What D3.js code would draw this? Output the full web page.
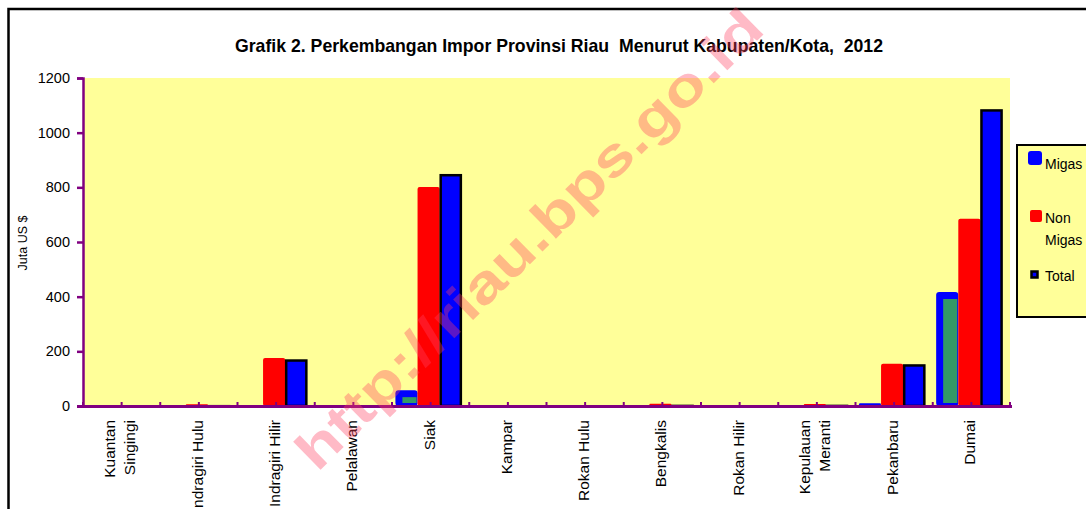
<!DOCTYPE html>
<html>
<head>
<meta charset="utf-8">
<script src="https://cdn.jsdelivr.net/npm/d3@7"></script>
<style>
body { margin: 0; background: #fff; }
text { font-family: "Liberation Sans", Arial, sans-serif; }
</style>
</head>
<body>
<svg id="chart" width="1086" height="509"></svg>
<script>
// data (Juta US $)
const kabupaten = [["Kuantan", "Singingi"], ["Indragiri Hulu"], ["Indragiri Hilir"], ["Pelalawan"], ["Siak"], ["Kampar"],
    ["Rokan Hulu"], ["Bengkalis"], ["Rokan Hilir"], ["Kepulauan", "Meranti"], ["Pekanbaru"], ["Dumai"]]
const migas = [0, 0, 0, 0, 58, 0, 0, 0, 0, 0, 10, 417]
const nonMigas = [0, 6, 176, 0, 801, 0, 0, 8, 0, 7, 155, 685]
const total = [0, 3, 170, 0, 848, 0, 0, 4, 0, 4, 152, 1085]
const yTicks = [0, 200, 400, 600, 800, 1000, 1200]
const seriesNames = ["Migas", "Non Migas", "Total"]

const svg = d3.select("#chart")
const pLeft = 83, pRight = 1010, pTop = 78, pBottom = 406

// outer frame
svg.append("rect").attr("x", 8.5).attr("y", 9).attr("width", 1100).attr("height", 520)
    .attr("fill", "none").attr("stroke", "#000").attr("stroke-width", 2.5)

svg.append("text").attr("x", 559).attr("y", 52).attr("text-anchor", "middle")
    .attr("font-size", 18.5).attr("font-weight", "bold").style("white-space", "pre")
    .attr("textLength", 648).attr("lengthAdjust", "spacingAndGlyphs")
    .text("Grafik 2. Perkembangan Impor Provinsi Riau  Menurut Kabupaten/Kota,  2012")

const names = kabupaten.map(d => d.join(" "))
const x = d3.scaleBand().domain(names).range([pLeft, pRight]).paddingInner(0.14).paddingOuter(0.07)
const xs = d3.scaleBand().domain(seriesNames).range([0, x.bandwidth()])
const y = d3.scaleLinear().domain([0, 1200]).range([pBottom, pTop])

svg.append("rect").attr("x", pLeft).attr("y", pTop).attr("width", pRight - pLeft).attr("height", pBottom - pTop)
    .attr("fill", "#ffff99")

// bars
const g = svg.append("g")
const step = (pRight - pLeft) / names.length
names.forEach((n, i) => {
    const x0 = x(n) - 2
    // Migas: blue with green core
    const hm = pBottom - y(migas[i])
    if (hm > 0) {
        g.append("rect").attr("x", x0 + xs("Migas")).attr("y", y(migas[i])).attr("width", xs.bandwidth())
            .attr("height", hm).attr("rx", Math.min(3, hm / 2)).attr("fill", "#0000ff")
        if (hm > 14) {
            g.append("rect").attr("x", x0 + xs("Migas") + 7).attr("y", y(migas[i]) + 7)
                .attr("width", xs.bandwidth() - 8).attr("height", hm - 10).attr("fill", "#339966")
        }
    }
    const hn = pBottom - y(nonMigas[i])
    if (hn > 0) {
        g.append("rect").attr("x", x0 + xs("Non Migas")).attr("y", y(nonMigas[i])).attr("width", xs.bandwidth())
            .attr("height", hn).attr("rx", Math.min(2, hn / 2)).attr("fill", "#ff0000")
    }
    const ht = pBottom - y(total[i])
    if (ht > 0) {
        g.append("rect").attr("x", x0 + xs("Total") + 1).attr("y", y(total[i]) + 1).attr("width", xs.bandwidth() - 2)
            .attr("height", Math.max(ht - 1, 0.5)).attr("fill", "#0000ff").attr("stroke", "#000").attr("stroke-width", 2.5)
    }
})

// axes
const yAxis = d3.axisLeft(y).tickValues(yTicks).tickFormat(d3.format("d")).tickSize(6).tickPadding(7)
const ya = svg.append("g").attr("transform", `translate(${pLeft},0)`).call(yAxis)
ya.select(".domain").attr("stroke", "#800080").attr("stroke-width", 2.5)
ya.selectAll(".tick line").attr("stroke", "#800080").attr("stroke-width", 2.5)
ya.selectAll(".tick text").attr("font-size", 14.5).attr("fill", "#000").attr("font-family", "Liberation Sans, Arial")

svg.append("line").attr("x1", pLeft - 6).attr("x2", pRight + 2).attr("y1", pBottom + 0.5).attr("y2", pBottom + 0.5)
    .attr("stroke", "#800080").attr("stroke-width", 3)
d3.range(names.length * 2 + 1).forEach(k => {
    const tx = pLeft + k * step / 2
    svg.append("line").attr("x1", tx).attr("x2", tx).attr("y1", pBottom).attr("y2", pBottom - 4)
        .attr("stroke", "#800080").attr("stroke-width", 2)
})

// category labels, rotated
kabupaten.forEach((lines, i) => {
    const cx = x(names[i]) + x.bandwidth() / 2 - 2
    const off = lines.length == 1 ? [6] : [-5, 15]
    lines.forEach((t, j) => {
        svg.append("text").attr("transform", `translate(${cx + off[j]},420) rotate(-90)`)
            .attr("text-anchor", "end").attr("font-size", 15.5).text(t)
    })
})

svg.append("text").attr("transform", "translate(27,243) rotate(-90)").attr("text-anchor", "middle")
    .attr("font-size", 12.5).text("Juta US $")

// legend
const lg = svg.append("g")
lg.append("rect").attr("x", 1017).attr("y", 145).attr("width", 90).attr("height", 172)
    .attr("fill", "#ffff99").attr("stroke", "#000").attr("stroke-width", 2)
lg.append("rect").attr("x", 1028).attr("y", 151).attr("width", 14).attr("height", 14).attr("rx", 3).attr("fill", "#0000ff")
lg.append("text").attr("x", 1045).attr("y", 169).attr("font-size", 14).text("Migas")
lg.append("rect").attr("x", 1030).attr("y", 210).attr("width", 12).attr("height", 12).attr("rx", 2).attr("fill", "#ff0000")
lg.append("text").attr("x", 1045).attr("y", 223).attr("font-size", 14).text("Non")
lg.append("text").attr("x", 1045).attr("y", 245).attr("font-size", 14).text("Migas")
lg.append("rect").attr("x", 1031.5).attr("y", 271.5).attr("width", 6).attr("height", 6)
    .attr("fill", "#0000ff").attr("stroke", "#000").attr("stroke-width", 2.5)
lg.append("text").attr("x", 1045).attr("y", 281).attr("font-size", 14).text("Total")

// watermark
svg.append("text").attr("transform", "translate(532,242) rotate(-44.5)").attr("text-anchor", "middle")
    .attr("dominant-baseline", "middle").attr("font-size", 54).attr("font-weight", "bold")
    .attr("textLength", 630).attr("lengthAdjust", "spacingAndGlyphs")
    .attr("fill", "#ff4060").attr("fill-opacity", 0.36).text("http://riau.bps.go.id")
</script>
</body>
</html>
